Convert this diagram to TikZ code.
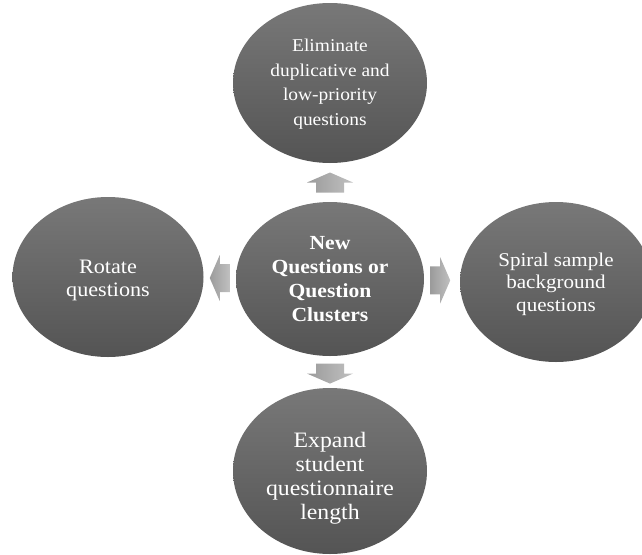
\documentclass[tikz,border=0pt]{standalone}
\usepackage{fontspec}
\setmainfont{Liberation Serif}[FakeStretch=1.08]
\usetikzlibrary{shapes.geometric,calc}
\definecolor{ellTop}{RGB}{120,120,120}
\definecolor{ellBot}{RGB}{84,84,84}
\definecolor{arrBase}{RGB}{155,155,155}
\definecolor{arrTip}{RGB}{192,192,192}
\begin{document}
\begin{tikzpicture}[x=1pt,y=-1pt,
  bubble/.style={ellipse, inner sep=0pt, draw=none,
    top color=ellTop, bottom color=ellBot},
  caption/.style={text=white, align=center, inner sep=0pt,
    font=\fontsize{18}{24.5}\selectfont},
  hubcaption/.style={caption, font=\bfseries\fontsize{20}{24}\selectfont},
  blockarrow/.style={left color=arrBase, right color=arrTip, draw=none}]
\useasboundingbox (0,0) rectangle (642,554);

% the five ellipses
\node[bubble, minimum width=188pt, minimum height=154pt] (hub) at (330,279) {};
\node[bubble, minimum width=194pt, minimum height=160pt] (top) at (330,83) {};
\node[bubble, minimum width=191pt, minimum height=160pt] (left) at (108,277) {};
\node[bubble, minimum width=192pt, minimum height=160pt] (right) at (556,282) {};
\node[bubble, minimum width=194pt, minimum height=166pt] (bottom) at (330,471) {};

% their texts
\node[hubcaption] (hubtext) at (hub.center)
  {New\\Questions or\\Question\\Clusters};
\node[caption] (toptext) at ($(top.center)+(0,1)$)
  {Eliminate\\duplicative and\\low-priority\\questions};
\node[caption, font=\fontsize{20.5}{23}\selectfont] (lefttext)
  at ($(left.center)+(0,3)$) {Rotate\\questions};
\node[caption, font=\fontsize{19.5}{22.5}\selectfont] (righttext)
  at ($(right.center)+(0,2)$) {Spiral sample\\background\\questions};
\node[caption, font=\fontsize{22}{24}\selectfont] (bottomtext)
  at ($(bottom.center)+(0,7)$) {Expand\\student\\questionnaire\\length};

% block arrows between the hub and each ellipse
\newcommand{\blockarrowat}[2]{%
  \shade[blockarrow, shift={#1}, rotate=#2]
    (-10,-14) -- (0,-14) -- (0,-23) -- (10,0) -- (0,23) -- (0,14) -- (-10,14) -- cycle;}
\blockarrowat{($(hub.north)!0.5!(top.south)$)}{90}
\blockarrowat{($(hub.south)!0.55!(bottom.north)$)}{-90}
\blockarrowat{($(hub.west)!0.5!(left.east)$)}{180}
\blockarrowat{($(hub.east)!0.45!(right.west)$)}{0}
\end{tikzpicture}
\end{document}
